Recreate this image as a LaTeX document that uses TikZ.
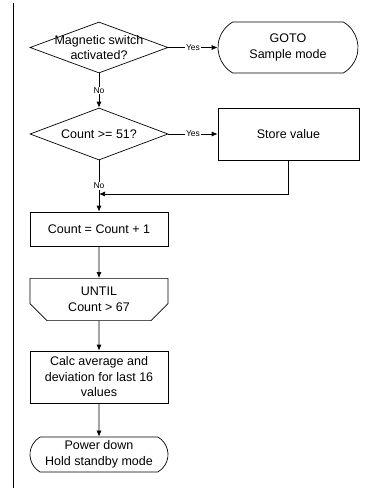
\documentclass[tikz,border=0pt]{standalone}
\usepackage{fontspec}
\setmainfont{Liberation Sans}
\usetikzlibrary{shapes.geometric,shapes.misc,arrows.meta}

\begin{document}
\begin{tikzpicture}[x=1pt,y=-1pt,
  line width=.7pt,
  every node/.style={font=\fontsize{12.5}{15.5}\selectfont,align=center},
  decision/.style={draw,diamond,inner sep=0pt,minimum width=138pt,minimum height=51pt},
  process/.style={draw,rectangle,inner sep=0pt,minimum width=138pt},
  terminal/.style={draw,rounded rectangle,rounded rectangle arc length=120,inner sep=0pt,minimum width=138pt},
  loopend/.style={draw,chamfered rectangle,chamfered rectangle corners={south west,south east},
    chamfered rectangle xsep=8pt,chamfered rectangle ysep=9pt,inner sep=0pt,minimum width=138pt,minimum height=35pt},
  tag/.style={font=\fontsize{8.5}{10}\selectfont,fill=white,inner sep=1pt},
  flow/.style={-{Latex[length=6pt,width=5pt]}}]
\useasboundingbox (0,0) rectangle (384,488);
\draw[line width=1pt] (13,3) -- (13,488);

\node[decision,label={[align=center]center:Magnetic switch\\activated?}] (magnet) at (99,47.5) {};
\node[terminal,minimum width=140pt,minimum height=51pt] (gotosample) at (288,47.5) {GOTO\\Sample mode};
\node[decision,minimum height=52pt,label={center:Count >= 51?}] (countcheck) at (99,134) {};
\node[process,minimum width=141pt,minimum height=52pt] (store) at (288.5,134) {Store value};
\coordinate (join) at (99,194);
\node[process,minimum height=34pt] (increment) at (99,229) {Count = Count + 1};
\node[loopend] (until) at (99,299.5) {UNTIL\\Count > 67};
\node[process,minimum height=52pt] (calc) at (99,377) {Calc average and\\deviation for last 16\\values};
\node[terminal,minimum height=35pt] (powerdown) at (99,454.5) {Power down\\Hold standby mode};

\draw[flow] (magnet) -- node[tag] {Yes} (gotosample);
\draw[flow] (magnet) -- node[tag] {No} (countcheck);
\draw[flow] (countcheck) -- node[tag] {Yes} (store);
\draw[flow] (countcheck) -- node[tag] {No} (increment);
\draw[flow] (store.south) |- (join);
\draw[flow] (increment) -- (until);
\draw[flow] (until) -- (calc);
\draw[flow] (calc) -- (powerdown);
\end{tikzpicture}
\end{document}
